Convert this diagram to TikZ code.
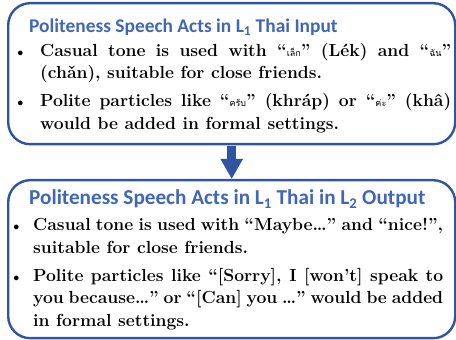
\documentclass[tikz,border=0pt]{standalone}
\usepackage{fontspec}
\newfontfamily\titlefont{Carlito}
\newfontfamily\thaifont[Script=Thai]{Loma}
\usetikzlibrary{arrows.meta}
\definecolor{boxblue}{RGB}{47,85,160}
\definecolor{titleblue}{RGB}{64,102,184}
\newcommand{\thw}[1]{{\thaifont\mdseries\fontsize{9}{9}\selectfont #1}}
\newcommand{\bul}[1]{\leavevmode\llap{{\titlefont\fontsize{11}{11}\selectfont\textbullet}\hspace{#1}}}
\tikzset{
  panel/.style={draw=boxblue, line width=2.4pt, rounded corners=22pt,
    minimum width=447pt, inner sep=0, anchor=north west},
  titletext/.style={anchor=base west, inner sep=0, text=titleblue,
    font=\titlefont\bfseries\fontsize{19.4}{22}\selectfont},
  bodytext/.style={anchor=base west, inner sep=0,
    font=\bfseries\fontsize{17.5}{22.5}\selectfont},
  flowarrow/.style={draw=boxblue, line width=9pt,
    -{Triangle[width=21pt,length=20pt]}}
}
\begin{document}
\begin{tikzpicture}[x=1pt,y=1pt]
\useasboundingbox (0,0) rectangle (456,340);
\node[panel, minimum height=141pt] (top) at (7,338) {};
\node[panel, minimum height=158pt] (bot) at (7,161) {};
\draw[flowarrow, shorten <=1pt] (top.south) -- (bot.north);
\node[titletext] (toptitle) at (29,307.5) {Politeness Speech Acts in L\textsubscript{1} Thai Input};
\node[bodytext] (topbody) at (40,283.5) {\parbox[t]{411pt}{\hyphenpenalty=10000 \exhyphenpenalty=10000
\bul{17pt}Casual tone is used with “\thw{เล็ก}” (Lék) and “\thw{ฉัน}” (chǎn), suitable for close friends.\par\vspace{5.5pt}
\bul{17pt}Polite particles like “\thw{ครับ}” (khráp) or “\thw{ค่ะ}” (khâ) would be added in formal settings.}};
\node[titletext, font=\titlefont\bfseries\fontsize{21.2}{22}\selectfont] (bottitle) at (29,135) {Politeness Speech Acts in L\textsubscript{1} Thai in L\textsubscript{2} Output};
\node[bodytext] (botbody) at (33,109) {\parbox[t]{410pt}{\hyphenpenalty=10000 \exhyphenpenalty=10000
\bul{14pt}Casual tone is used with “Maybe…” and “nice!”, suitable for close friends.\par\vspace{5.5pt}
\bul{14pt}Polite particles like “[Sorry], I [won’t] speak to you because…” or “[Can] you …” would be added in formal settings.}};
\end{tikzpicture}
\end{document}
